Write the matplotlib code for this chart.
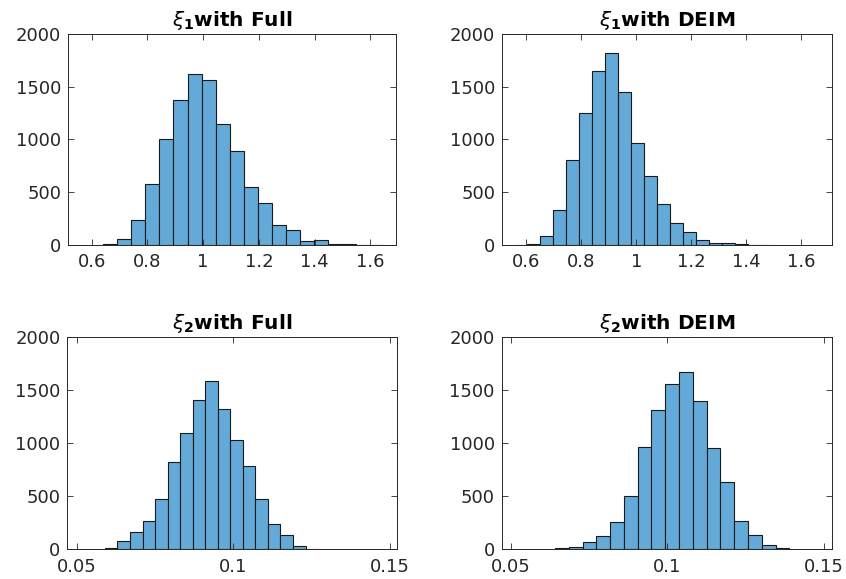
import numpy as np
import matplotlib
matplotlib.use('Agg')
import matplotlib.pyplot as plt

# histogram counts (20 / 17 bins per panel)
xi1_full_counts = [5, 55, 240, 575, 1000, 1375, 1625, 1560, 1150, 895, 550, 400, 185, 145, 38, 50, 12, 5, 3, 3]
xi1_full_start, xi1_full_width = 0.642, 0.0503

xi1_deim_counts = [3, 10, 85, 330, 810, 1255, 1645, 1820, 1450, 965, 655, 390, 210, 120, 48, 18, 16, 10, 3, 2]
xi1_deim_start, xi1_deim_width = 0.5557, 0.0472

xi2_full_counts = [10, 82, 165, 270, 475, 825, 1095, 1405, 1585, 1325, 1030, 790, 475, 235, 135, 30, 6]
xi2_full_start, xi2_full_width = 0.0590, 0.0040

xi2_deim_counts = [10, 20, 65, 125, 260, 500, 965, 1315, 1560, 1670, 1400, 955, 635, 265, 135, 45, 13]
xi2_deim_start, xi2_deim_width = 0.0641, 0.0044

titles = [r'$\xi_{\mathbf{1}}$with Full', r'$\xi_{\mathbf{1}}$with DEIM',
          r'$\xi_{\mathbf{2}}$with Full', r'$\xi_{\mathbf{2}}$with DEIM']

xticks_top = [0.6, 0.8, 1.0, 1.2, 1.4, 1.6]
xticklabels_top = ['0.6', '0.8', '1', '1.2', '1.4', '1.6']
xticks_bot = [0.05, 0.1, 0.15]
xticklabels_bot = ['0.05', '0.1', '0.15']
yticks = [0, 500, 1000, 1500, 2000]

panels = [
    (xi1_full_counts, xi1_full_start, xi1_full_width, (0.515, 1.692), xticks_top, xticklabels_top),
    (xi1_deim_counts, xi1_deim_start, xi1_deim_width, (0.512, 1.712), xticks_top, xticklabels_top),
    (xi2_full_counts, xi2_full_start, xi2_full_width, (0.047, 0.1522), xticks_bot, xticklabels_bot),
    (xi2_deim_counts, xi2_deim_start, xi2_deim_width, (0.0471, 0.1524), xticks_bot, xticklabels_bot),
]

# axes rectangles in figure fraction (846 x 579)
positions = [
    [0.0804, 0.5769, 0.3877, 0.3644],
    [0.5934, 0.5769, 0.3901, 0.3644],
    [0.0796, 0.0513, 0.3897, 0.3661],
    [0.5930, 0.0513, 0.3901, 0.3661],
]

bar_color = '#64aad8'
txt_color = '#262626'

fig = plt.figure(figsize=(8.46, 5.79), dpi=100)

for (counts, start, width, xlim, xt, xtl), pos, title in zip(panels, positions, titles):
    ax = fig.add_axes(pos)
    edges = start + width * np.arange(len(counts))
    ax.bar(edges, counts, width=width, align='edge', color=bar_color,
           edgecolor='#1a1a1a', linewidth=0.8)
    ax.set_xlim(*xlim)
    ax.set_ylim(0, 2000)
    ax.set_xticks(xt)
    ax.set_xticklabels(xtl)
    ax.set_yticks(yticks)
    ax.tick_params(direction='in', top=True, right=True, length=4, width=0.6,
                   colors=txt_color, labelsize=13)
    ax.tick_params(axis='x', pad=6)
    ax.tick_params(axis='y', pad=5)
    for s in ax.spines.values():
        s.set_color(txt_color)
        s.set_linewidth(0.7)
    ax.set_title(title, fontsize=14.5, fontweight='bold', pad=6)

fig.savefig('out.png', dpi=100)
